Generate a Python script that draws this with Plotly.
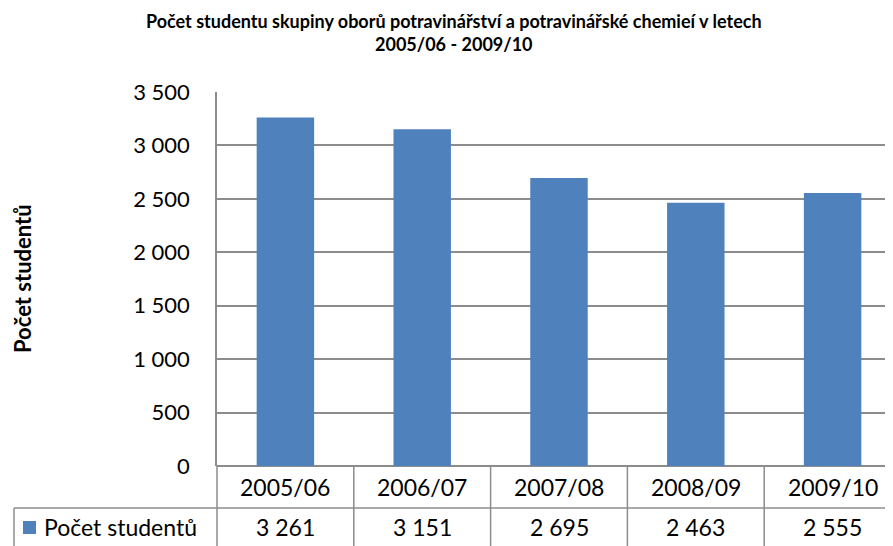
import plotly.graph_objects as go

# data
roky = ["2005/06", "2006/07", "2007/08", "2008/09", "2009/10"]
pocet_studentu = [3261, 3151, 2695, 2463, 2555]
nazev_rady = "Počet studentů"
y_ticks = [0, 500, 1000, 1500, 2000, 2500, 3000, 3500]

titulek = ("<b>Počet studentu skupiny oborů potravinářství a potravinářské chemieí v letech"
           "<br>2005/06 - 2009/10</b>")

# stránka má okraj 8 px, vše je posunuté
OFF = 8
W, H = 893, 546
ML, MR, MT, MB = 217 - OFF, 0, 92 - OFF, H - (466 - OFF)
plot_w = W - ML - MR
plot_h = H - MT - MB

x_min, x_max = -0.5, 4.5
font = "Lato, 'Open Sans', sans-serif"
modra = "#4F81BD"
seda = "#8C8C8C"


def fmt(v):
    return f"{v:,}".replace(",", " ")


def px_x(px):
    return (px - OFF - ML) / plot_w


def px_y(py):
    return (H - MB - (py - OFF)) / plot_h


def kat_x(i):
    return (i - x_min) / (x_max - x_min)


fig = go.Figure()
fig.add_trace(go.Bar(
    x=list(range(len(roky))),
    y=pocet_studentu,
    name=nazev_rady,
    marker_color=modra,
    marker_line_width=0,
))

shapes = []
annotations = []

# tabulka dat pod grafem
radek1 = px_y(508)
dole = px_y(560)
shapes.append(dict(type="line", xref="paper", yref="paper", x0=px_x(14), x1=1,
                   y0=radek1, y1=radek1, line=dict(color=seda, width=1.5)))
shapes.append(dict(type="line", xref="paper", yref="paper", x0=px_x(14), x1=px_x(14),
                   y0=radek1, y1=dole, line=dict(color=seda, width=1.5)))
for i in range(len(roky) + 1):
    xp = kat_x(i - 0.5)
    if xp <= 1.0:
        shapes.append(dict(type="line", xref="paper", yref="paper", x0=xp, x1=xp,
                           y0=0, y1=dole, line=dict(color=seda, width=1.5)))
# legenda v tabulce
shapes.append(dict(type="rect", xref="paper", yref="paper",
                   x0=px_x(23), x1=px_x(36), y0=px_y(534), y1=px_y(521),
                   fillcolor=modra, line_width=0))
annotations.append(dict(text=nazev_rady, xref="paper", yref="paper",
                        x=px_x(42), y=px_y(527), xanchor="left", yanchor="middle",
                        showarrow=False, font=dict(size=23, color="black")))

for i, (r, v) in enumerate(zip(roky, pocet_studentu)):
    annotations.append(dict(text=r, xref="x", yref="paper", x=i, y=px_y(487),
                            xanchor="center", yanchor="middle", showarrow=False,
                            font=dict(size=23, color="black")))
    annotations.append(dict(text=fmt(v), xref="x", yref="paper", x=i, y=px_y(527),
                            xanchor="center", yanchor="middle", showarrow=False,
                            font=dict(size=23, color="black")))

# popisek osy y
annotations.append(dict(text="<b>Počet studentů</b>", xref="paper", yref="paper",
                        x=px_x(22), y=0.5, textangle=-90, xanchor="center",
                        yanchor="middle", showarrow=False,
                        font=dict(size=22, color="black")))

# titulek
annotations.append(dict(text=titulek, xref="paper", yref="paper",
                        x=px_x(454), y=px_y(8), xanchor="center", yanchor="top",
                        showarrow=False, font=dict(size=18, color="black")))

fig.update_layout(
    width=W, height=H,
    margin=dict(l=ML, r=MR, t=MT, b=MB, pad=0),
    paper_bgcolor="white",
    plot_bgcolor="white",
    font=dict(family=font, color="black"),
    separators=", ",
    showlegend=False,
    bargap=0.58,
    xaxis=dict(range=[x_min, x_max], showticklabels=False, showgrid=False,
               zeroline=False, showline=False, fixedrange=True),
    yaxis=dict(range=[0, 3500], tickvals=y_ticks, tickformat=",d",
               showgrid=True, gridcolor=seda, gridwidth=1.5,
               zeroline=True, zerolinecolor=seda, zerolinewidth=1.5,
               showline=True, linecolor=seda, linewidth=1.5,
               ticks="", ticklabelstandoff=21,
               tickfont=dict(size=22, color="black")),
    shapes=shapes,
    annotations=annotations,
)

fig.write_html("out.html")
